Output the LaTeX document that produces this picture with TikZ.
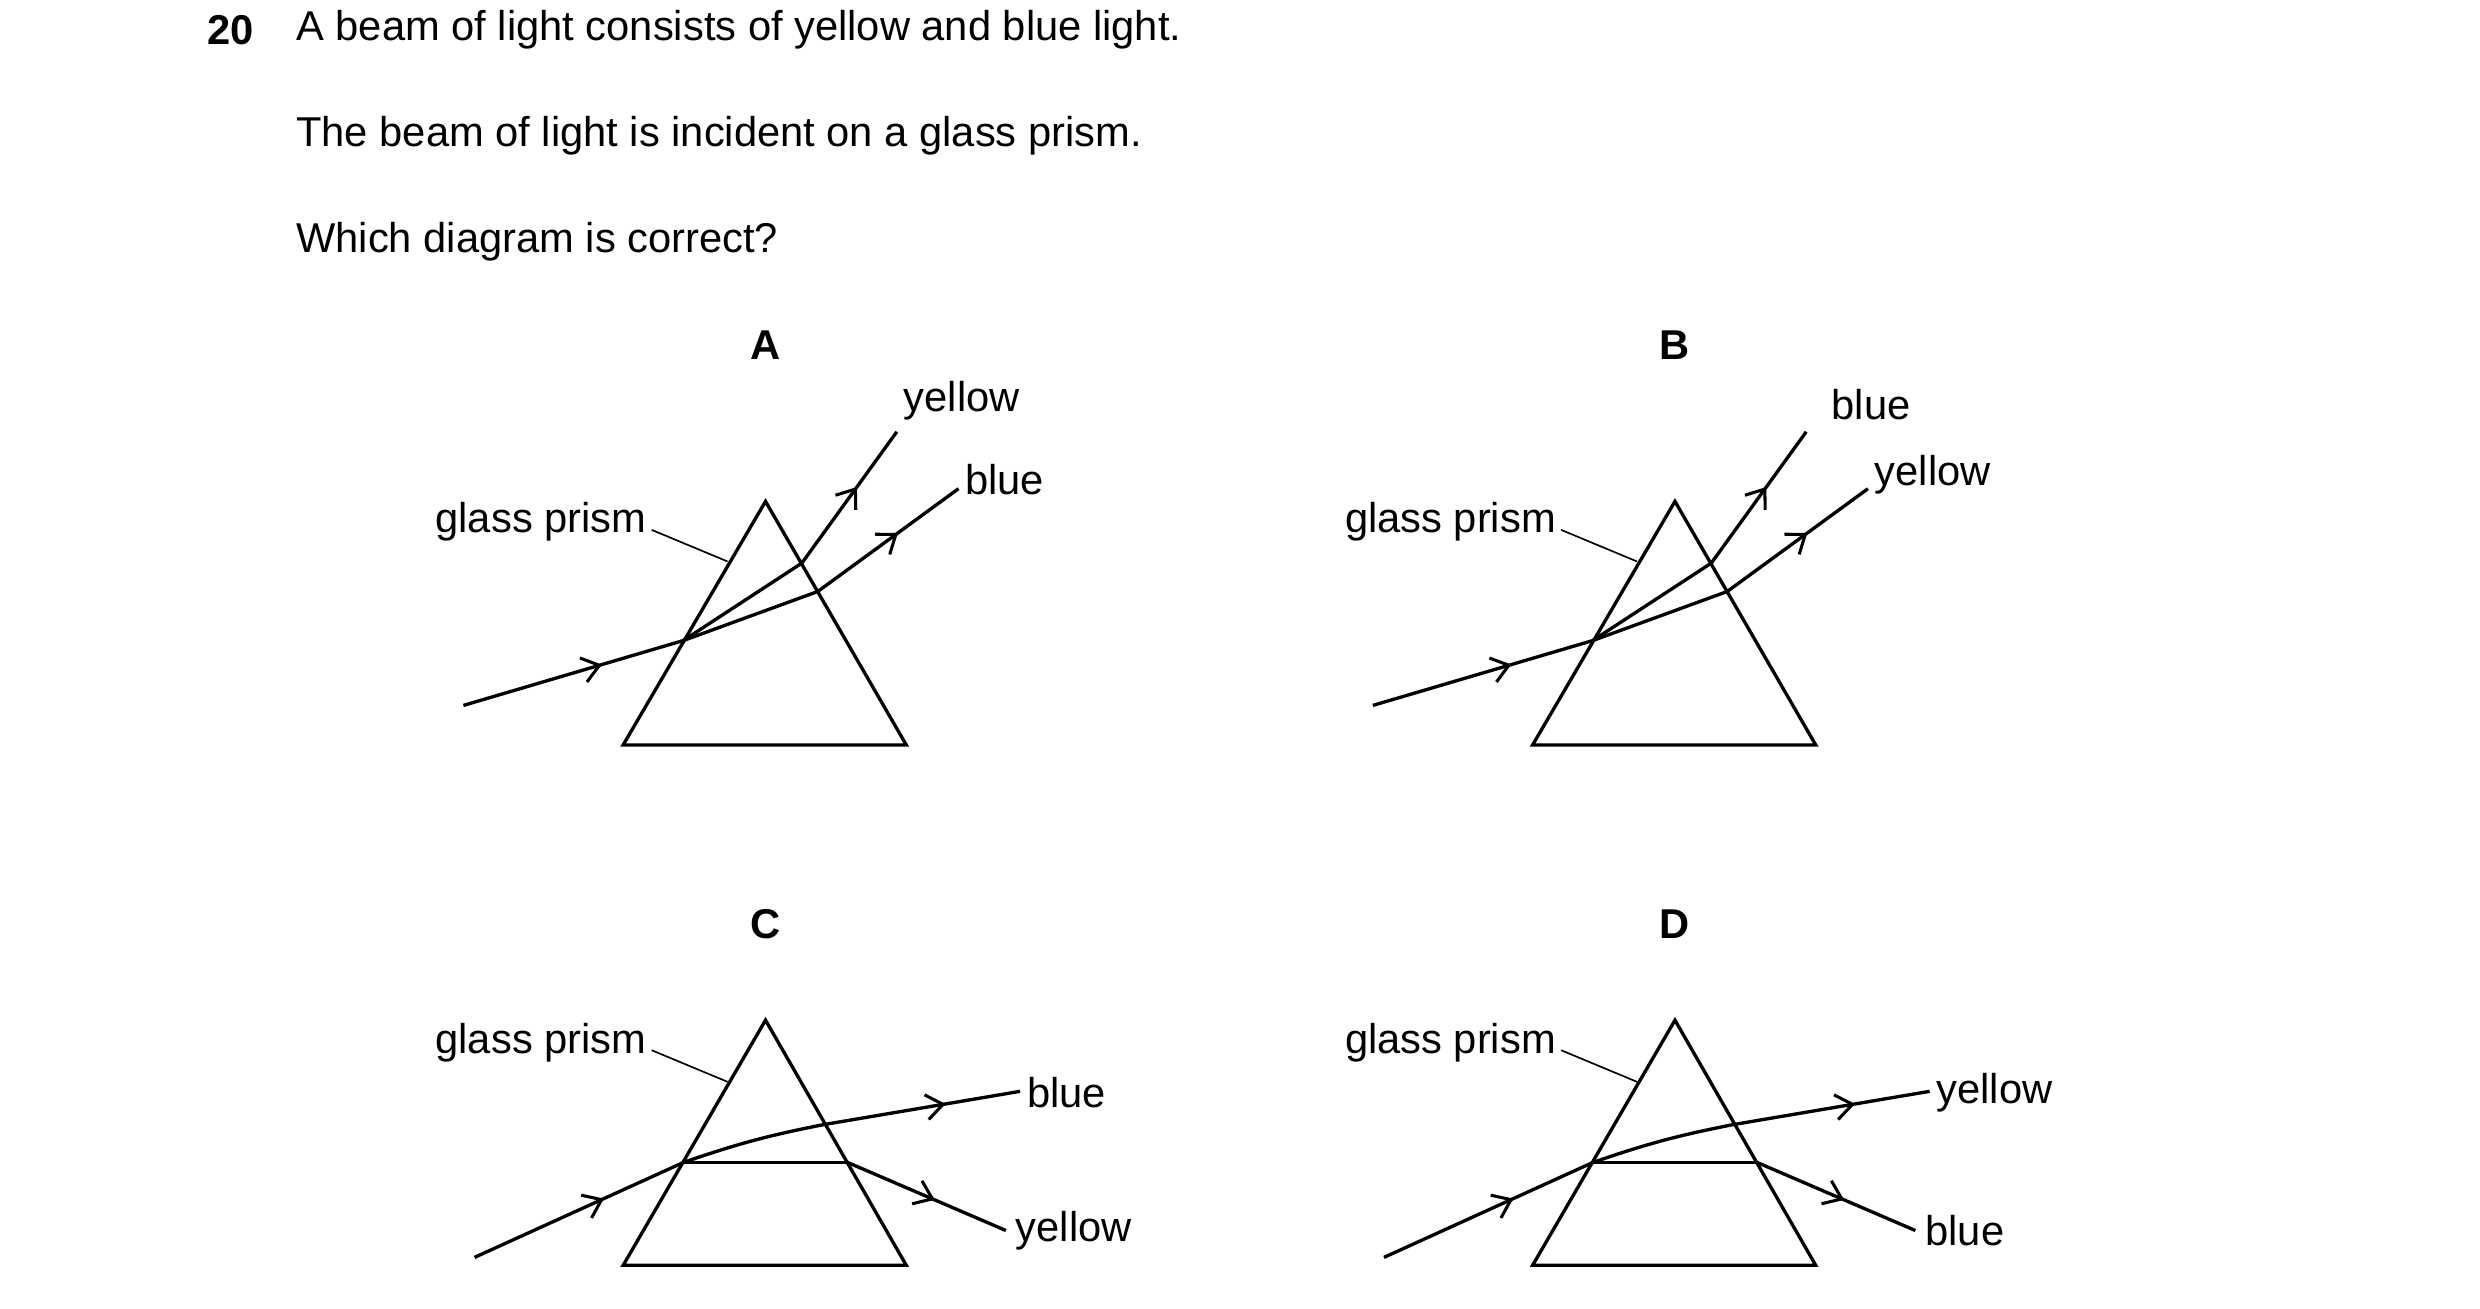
\documentclass[tikz,border=0pt]{standalone}
\usepackage{fontspec}
\setmainfont{Liberation Sans}
\usetikzlibrary{arrows.meta,decorations.markings}
\tikzset{
 ray/.style={line width=1.2pt,postaction={decorate},decoration={markings,mark=at position #1 with {\arrow{Straight Barb[length=6pt,width=9pt,line width=1.1pt]}}}},
 edge/.style={line width=1.2pt,line join=miter},
 lead/.style={line width=0.6pt},
 txt/.style={font=\fontsize{15}{18}\selectfont,inner sep=0pt},
 lab/.style={font=\fontsize{15}{18}\selectfont\bfseries,inner sep=0pt}
}
\begin{document}
\begin{tikzpicture}[x=0.02cm,y=-0.02cm]
\useasboundingbox (0,0) rectangle (1568,827);
\node[lab,anchor=west] (q) at (131,19) {20};
\node[txt,anchor=west] (l1) at (187,19) {A beam of light consists of yellow and blue light.};
\node[txt,anchor=west] (l2) at (187,86) {The beam of light is incident on a glass prism.};
\node[txt,anchor=west] (l3) at (187,153) {Which diagram is correct?};
% A and B
\foreach \dx/\L/\up/\lo in {0/A/yellow/blue,575/B/blue/yellow}{
\begin{scope}[shift={(\dx,0)}]
\node[lab] (L\L) at (484,218) {\L};
\draw[edge] (484,317) -- (394,471) -- (573,471) -- cycle;
\coordinate (in\L) at (293,446); \coordinate (p\L) at (432,405);
\coordinate (y\L) at (507,356); \coordinate (b\L) at (517,374);
\coordinate (yo\L) at (567,273); \coordinate (bo\L) at (606,309);
\draw[ray=0.63] (in\L) -- (p\L);
\draw[line width=1.2pt] (p\L) -- (y\L); \draw[line width=1.2pt] (p\L) -- (b\L);
\draw[ray=0.58] (y\L) -- (yo\L);
\draw[ray=0.57] (b\L) -- (bo\L);
\node[txt,anchor=south] (tu\L) at (608,266) {\up};
\node[txt,anchor=south west] (tl\L) at (610,313) {\lo};
\node[txt,anchor=east] (g\L) at (409,330) {glass prism};
\coordinate (ge\L) at (460,355);
\draw[lead] (412,335) -- (ge\L);
\end{scope}}
% C and D
\foreach \dx/\L/\up/\lo in {0/C/blue/yellow,575/D/yellow/blue}{
\begin{scope}[shift={(\dx,0)}]
\node[lab] (L\L) at (484,584) {\L};
\draw[edge] (484,645) -- (394,800) -- (573,800) -- cycle;
\coordinate (p\L) at (432,735); \coordinate (q\L) at (536,735);
\draw[line width=1.2pt] (p\L) -- (q\L);
\coordinate (in\L) at (300,795);
\draw[ray=0.62] (in\L) -- (p\L);
\coordinate (u\L) at (521,711); \coordinate (uo\L) at (645,690);
\draw[line width=1.2pt] (p\L) to[bend left=4] (u\L);
\draw[ray=0.62] (u\L) -- (uo\L);
\coordinate (lo\L) at (636,778);
\draw[ray=0.55] (q\L) -- (lo\L);
\node[txt,anchor=west] (tu\L) at (649,691) {\up};
\node[txt,anchor=west] (tl\L) at (642,778) {\lo};
\node[txt,anchor=east] (g\L) at (409,659) {glass prism};
\coordinate (ge\L) at (460,684);
\draw[lead] (412,664) -- (ge\L);
\end{scope}}
\end{tikzpicture}
\end{document}
